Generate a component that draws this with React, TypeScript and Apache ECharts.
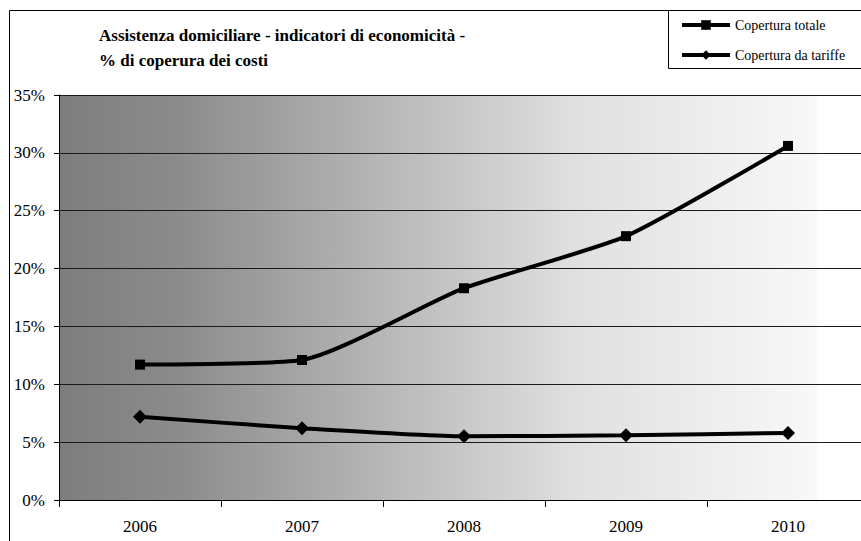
import React, { useEffect, useRef } from "react";
import * as echarts from "echarts";

const years = ["2006", "2007", "2008", "2009", "2010"];
const coperturaTotale = [11.7, 12.1, 18.3, 22.8, 30.6];
const coperturaTariffe = [7.2, 6.2, 5.5, 5.6, 5.8];
const seriesNames = ["Copertura totale", "Copertura da tariffe"];
const titleLines = [
  "Assistenza domiciliare - indicatori di economicità -",
  "% di coperura dei costi",
];

const SERIF = '"Liberation Serif", "Times New Roman", serif';

export default function App() {
  const ref = useRef<HTMLDivElement>(null);
  useEffect(() => {
    if (!ref.current) return;
    const chart = echarts.init(ref.current, null, { renderer: "svg" });
    chart.setOption({
      animation: false,
      backgroundColor: "#ffffff",
      textStyle: { fontFamily: SERIF },
      title: {
        text: titleLines.join("\n"),
        left: 99,
        top: 23,
        padding: 0,
        textStyle: {
          fontFamily: SERIF,
          fontWeight: "bold",
          fontSize: 17,
          lineHeight: 25,
          color: "#000",
        },
      },
      graphic: [
        {
          type: "rect",
          z: -10,
          shape: { x: 9.5, y: 10.5, width: 900, height: 600 },
          style: { fill: "none", stroke: "#000", lineWidth: 1 },
        },
        {
          type: "rect",
          z: 1,
          shape: { x: 668.5, y: 10.5, width: 300, height: 58 },
          style: { fill: "#fff", stroke: "#000", lineWidth: 1 },
        },
      ],
      legend: {
        orient: "vertical",
        left: 680,
        top: 18,
        padding: 0,
        itemWidth: 48,
        itemHeight: 12,
        itemGap: 16,
        z: 5,
        lineStyle: { width: 4 },
        textStyle: { fontFamily: SERIF, fontSize: 14, color: "#000" },
        data: seriesNames,
      },
      grid: {
        left: 59,
        top: 95,
        width: 810,
        height: 405,
        show: true,
        borderWidth: 0,
        backgroundColor: {
          type: "linear",
          x: 0,
          y: 0,
          x2: 1,
          y2: 0,
          colorStops: [
            { offset: 0, color: "#7d7d7d" },
            { offset: 0.15, color: "#8c8c8c" },
            { offset: 0.64, color: "#e0e0e0" },
            { offset: 0.935, color: "#f8f8f8" },
            { offset: 0.937, color: "#ffffff" },
            { offset: 1, color: "#ffffff" },
          ],
        },
      },
      xAxis: {
        type: "category",
        data: years,
        boundaryGap: true,
        axisLine: { lineStyle: { color: "#000", width: 1 } },
        axisTick: { show: true, length: 7, lineStyle: { color: "#000" } },
        axisLabel: {
          margin: 18,
          fontFamily: SERIF,
          fontSize: 17,
          color: "#000",
        },
      },
      yAxis: {
        type: "value",
        min: 0,
        max: 35,
        interval: 5,
        axisLine: { show: true, lineStyle: { color: "#000", width: 1 } },
        axisTick: { show: true, length: 5, lineStyle: { color: "#000" } },
        axisLabel: {
          formatter: "{value}%",
          margin: 14,
          fontFamily: SERIF,
          fontSize: 17,
          color: "#000",
        },
        splitLine: { show: true, lineStyle: { color: "#1a1a1a", width: 1 } },
      },
      series: [
        {
          name: seriesNames[0],
          type: "line",
          data: coperturaTotale,
          smooth: 0.2,
          symbol: "rect",
          symbolSize: 10,
          lineStyle: { color: "#000", width: 4 },
          itemStyle: { color: "#000" },
          z: 3,
        },
        {
          name: seriesNames[1],
          type: "line",
          data: coperturaTariffe,
          smooth: 0.2,
          symbol: "diamond",
          symbolSize: 14,
          lineStyle: { color: "#000", width: 4 },
          itemStyle: { color: "#000" },
          z: 3,
        },
      ],
    });
    return () => chart.dispose();
  }, []);
  return (
    <div
      ref={ref}
      style={{ position: "fixed", left: 0, top: 0, width: 880, height: 541 }}
    />
  );
}
